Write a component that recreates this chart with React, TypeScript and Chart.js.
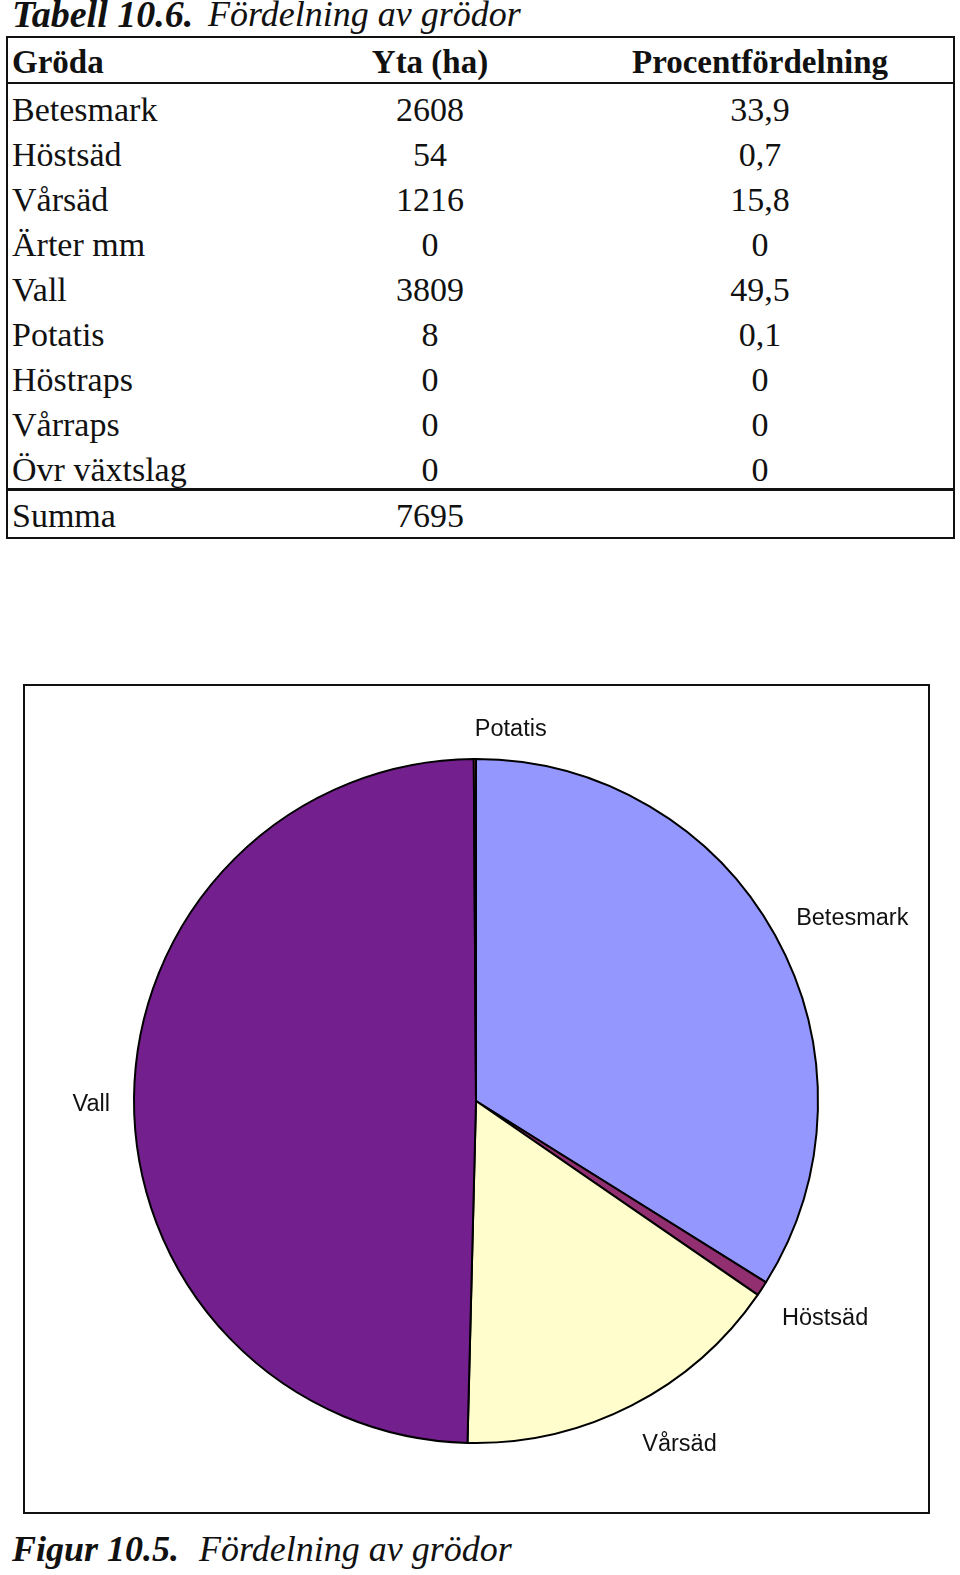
import React, { useEffect, useRef } from "react";
import { Chart, registerables } from "chart.js";

Chart.register(...registerables);

const crops = ["Betesmark", "Höstsäd", "Vårsäd", "Ärter mm", "Vall", "Potatis", "Höstraps", "Vårraps", "Övr växtslag"];
const areaHa = [2608, 54, 1216, 0, 3809, 8, 0, 0, 0];
const percentText = ["33,9", "0,7", "15,8", "0", "49,5", "0,1", "0", "0", "0"];
const totalLabel = "Summa";
const totalHa = "7695";
const headers = ["Gröda", "Yta (ha)", "Procentfördelning"];
const pieLabels = ["Betesmark", "Höstsäd", "Vårsäd", "Ärter mm", "Vall", "Potatis", "Höstraps", "Vårraps", "Övr växtslag"];
const sliceColors = ["#9497FE", "#922F70", "#FFFDCC", "#CCFFFF", "#741F8E", "#FF8080", "#0066CC", "#CCCCFF", "#000080"];

const SERIF = "'Liberation Serif', 'Times New Roman', serif";
const SANS = "'Liberation Sans', Arial, sans-serif";

const outsideLabels = {
  id: "outsideLabels",
  afterDatasetsDraw(chart: any) {
    const ctx = chart.ctx;
    const meta = chart.getDatasetMeta(0);
    const data = chart.data.datasets[0].data as number[];
    ctx.save();
    ctx.font = `23.5px ${SANS}`;
    ctx.fillStyle = "#111";
    ctx.textAlign = "center";
    ctx.textBaseline = "middle";
    meta.data.forEach((arc: any, i: number) => {
      if (!data[i]) return;
      const p = arc.getProps(["x", "y", "startAngle", "endAngle", "outerRadius"], true);
      const mid = (p.startAngle + p.endAngle) / 2;
      const dx = Math.cos(mid);
      const dy = Math.sin(mid);
      const text = chart.data.labels[i];
      const w = ctx.measureText(text).width;
      const h = 22;
      const R = p.outerRadius + 24;
      const sx = dx > -0.02 ? 1 : -1;
      const sy = Math.max(-1, Math.min(1, dy * 3 + 0.1));
      const cx = p.x + dx * R + sx * (w / 2);
      const cy = p.y + dy * R + sy * (h / 2) + 6;
      ctx.fillText(text, cx, cy);
    });
    ctx.restore();
  },
};

function PieChart() {
  const ref = useRef<HTMLCanvasElement | null>(null);
  useEffect(() => {
    if (!ref.current) return;
    const chart = new Chart(ref.current, {
      type: "pie",
      data: {
        labels: pieLabels,
        datasets: [
          {
            data: areaHa,
            backgroundColor: sliceColors,
            borderColor: "#000",
            borderWidth: 2,
            radius: 342,
          } as any,
        ],
      },
      options: {
        responsive: false,
        animation: false,
        devicePixelRatio: 1,
        layout: { padding: { top: 4, bottom: 0, left: 0, right: 0 } },
        plugins: {
          legend: { display: false },
          tooltip: { enabled: false },
        },
      },
      plugins: [outsideLabels],
    });
    return () => chart.destroy();
  }, []);
  return <canvas ref={ref} width={902} height={826} style={{ width: 902, height: 826, display: "block" }} />;
}

const ROW_TOP = 93.4;
const ROW_PITCH = 44.9;

export default function App() {
  const cell = (text: string, top: number, col: number, bold = false, size = 34) => {
    const base: React.CSSProperties = {
      position: "absolute",
      top,
      fontFamily: SERIF,
      fontSize: size,
      lineHeight: `${size}px`,
      fontWeight: bold ? "bold" : "normal",
      color: "#111",
      whiteSpace: "nowrap",
    };
    if (col === 0) return <div key={text + top + col} style={{ ...base, left: 12 }}>{text}</div>;
    const center = col === 1 ? 430 : 760;
    return (
      <div key={text + top + col} style={{ ...base, left: center - 200, width: 400, textAlign: "center" }}>
        {text}
      </div>
    );
  };
  const hline = (y: number, h = 2) => (
    <div key={"l" + y} style={{ position: "absolute", left: 6, width: 949, top: y, height: h, background: "#111" }} />
  );

  return (
    <div style={{ position: "absolute", left: 0, top: 0, width: 960, height: 1575, background: "#fff", overflow: "hidden" }}>
      <div style={{ position: "absolute", left: 12, top: -4, fontFamily: SERIF, fontSize: 36, lineHeight: "36px", whiteSpace: "nowrap", color: "#111" }}>
        <span style={{ fontWeight: "bold", fontStyle: "italic", fontSize: 38 }}>Tabell 10.6.</span>
        <span style={{ fontStyle: "italic", position: "absolute", left: 196, top: 0 }}>Fördelning av grödor</span>
      </div>

      {hline(36, 2)}
      {hline(82, 2)}
      {hline(488, 3)}
      {hline(537, 2)}
      <div style={{ position: "absolute", left: 6, top: 36, width: 2, height: 503, background: "#111" }} />
      <div style={{ position: "absolute", left: 953, top: 36, width: 2, height: 503, background: "#111" }} />

      {headers.map((h, i) => cell(h, 45.7, i, true, 33))}
      {crops.map((c, i) => cell(c, ROW_TOP + i * ROW_PITCH, 0))}
      {areaHa.map((v, i) => cell(String(v), ROW_TOP + i * ROW_PITCH, 1))}
      {percentText.map((v, i) => cell(v, ROW_TOP + i * ROW_PITCH, 2))}
      {cell(totalLabel, 498.5, 0)}
      {cell(totalHa, 498.5, 1)}

      <div style={{ position: "absolute", left: 23, top: 684, width: 907, height: 830, border: "2px solid #111", boxSizing: "border-box", background: "#fff" }}>
        <PieChart />
      </div>

      <div style={{ position: "absolute", left: 12, top: 1530.5, fontFamily: SERIF, fontSize: 36, lineHeight: "36px", whiteSpace: "nowrap", color: "#111" }}>
        <span style={{ fontWeight: "bold", fontStyle: "italic" }}>Figur 10.5.</span>
        <span style={{ fontStyle: "italic", position: "absolute", left: 187, top: 0 }}>Fördelning av grödor</span>
      </div>
    </div>
  );
}
